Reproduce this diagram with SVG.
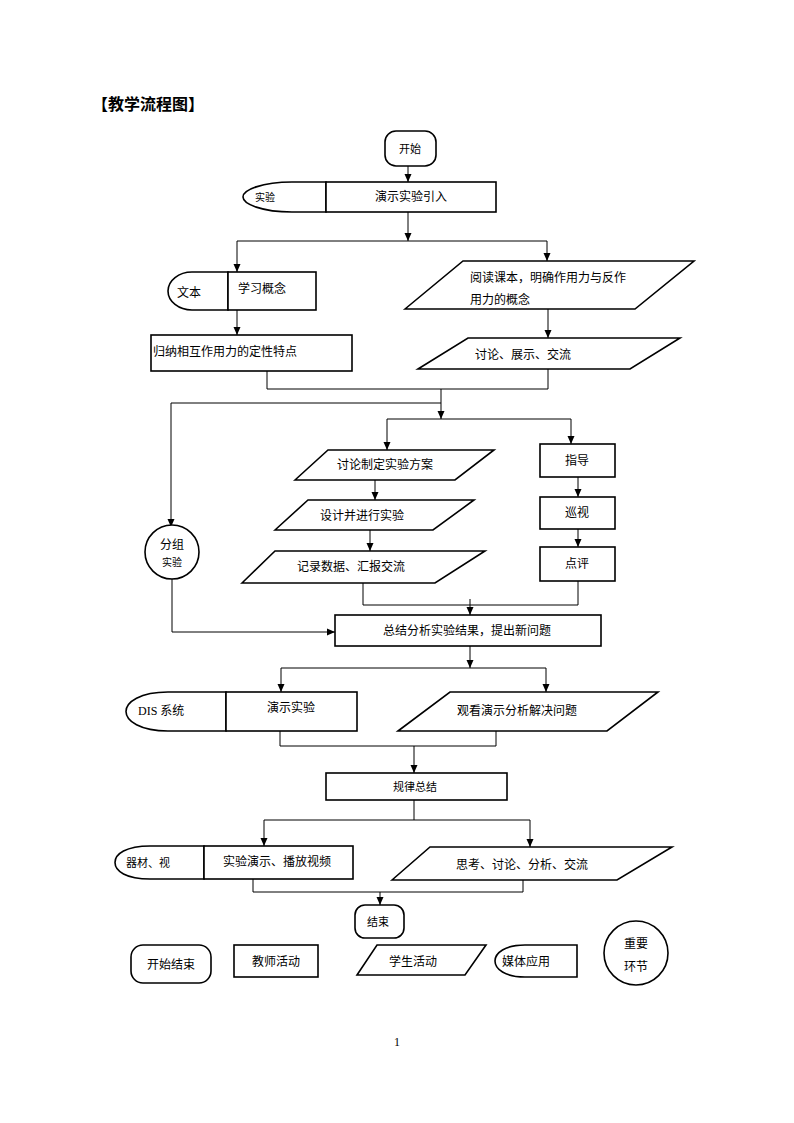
<svg xmlns="http://www.w3.org/2000/svg" width="794" height="1123" viewBox="0 0 794 1123">
<defs>
<marker id="arr" markerUnits="userSpaceOnUse" markerWidth="9" markerHeight="8" refX="8" refY="4" orient="auto"><path d="M0,0.5 L8,4 L0,7.5 z" fill="#000"/></marker>
<style>
.s{fill:#fff;stroke:#000;stroke-width:1.6}
.t{font-family:"Noto Sans CJK SC","Noto Sans",sans-serif;font-size:12px;fill:#000}
.c{text-anchor:middle}
.sm{font-size:10px}
.m{font-size:11px}
.ln{fill:none;stroke:#000;stroke-width:1}
.ar{fill:none;stroke:#000;stroke-width:1;marker-end:url(#arr)}
</style>
</defs>
<rect width="794" height="1123" fill="#fff"/>
<text x="92" y="110" font-family="'Noto Sans CJK SC',sans-serif" font-size="16" font-weight="bold">【教学流程图】</text>

<g id="connectors">
<path class="ar" d="M408,166 V182"/>
<path class="ar" d="M408,212 V241"/>
<path class="ln" d="M237,241 H547"/>
<path class="ar" d="M237,241 V272"/>
<path class="ar" d="M547,241 V261"/>
<path class="ar" d="M237,310 V335"/>
<path class="ar" d="M548,309 V338"/>
<path class="ln" d="M267,371 V389 H548 V369"/>
<path class="ar" d="M441,389 V419"/>
<path class="ln" d="M387,419 H571"/>
<path class="ar" d="M387,419 V450"/>
<path class="ar" d="M571,419 V444"/>
<path class="ar" d="M441,403 H171 V527"/>
<path class="ar" d="M375,480 V500"/>
<path class="ar" d="M370,530 V551"/>
<path class="ar" d="M578,477 V497"/>
<path class="ar" d="M578,529 V547"/>
<path class="ln" d="M363,583 V605 H578 V581"/>
<path class="ar" d="M470,599 V615"/>
<path class="ar" d="M172,579 V632 H335"/>
<path class="ar" d="M470,646 V668"/>
<path class="ln" d="M281,668 H546"/>
<path class="ar" d="M281,668 V692"/>
<path class="ar" d="M546,668 V692"/>
<path class="ln" d="M280,731 V746 H496 V731"/>
<path class="ar" d="M414,746 V773"/>
<path class="ln" d="M414,800 V820"/>
<path class="ln" d="M264,820 H530"/>
<path class="ar" d="M264,820 V846"/>
<path class="ar" d="M530,820 V847"/>
<path class="ln" d="M253,879 V892 H523 V880"/>
<path class="ar" d="M380,892 V905"/>
</g>

<g id="start">
<rect class="s" x="385" y="131" width="51" height="35" rx="11"/>
<text class="t c m" x="410" y="153">开始</text>
</g>

<g id="media1">
<path class="s" d="M326,182 L292,182 C262,182 243,190 243,197 C243,204 262,212 292,212 L326,212 Z"/>
<text class="t sm" x="255" y="201">实验</text>
</g>
<g id="n_intro">
<rect class="s" x="326" y="182" width="170" height="30"/>
<text class="t c" x="411" y="201">演示实验引入</text>
</g>

<g id="media2">
<path class="s" d="M228,272 L192,272 A24,19 0 0 0 192,310 L228,310 Z"/>
<text class="t" x="177" y="297">文本</text>
</g>
<g id="n_learn">
<rect class="s" x="228" y="272" width="88" height="38"/>
<text class="t" x="238" y="293">学习概念</text>
</g>

<g id="n_read">
<polygon class="s" points="405,309 463,261 694,261 635,309"/>
<text class="t" x="470" y="282">阅读课本，明确作用力与反作</text>
<text class="t" x="470" y="304">用力的概念</text>
</g>

<g id="n_induce">
<rect class="s" x="151" y="335" width="201" height="36"/>
<text class="t" x="153" y="356">归纳相互作用力的定性特点</text>
</g>

<g id="n_discuss1">
<polygon class="s" points="418,369 468,338 680,338 630,369"/>
<text class="t" x="475" y="359">讨论、展示、交流</text>
</g>

<g id="n_group">
<circle class="s" cx="172" cy="552" r="27"/>
<text class="t c" x="172" y="549" font-size="13">分组</text>
<text class="t c sm" x="172" y="566">实验</text>
</g>

<g id="n_plan">
<polygon class="s" points="295,480 328,450 494,450 455,480"/>
<text class="t c" x="385" y="469">讨论制定实验方案</text>
</g>
<g id="n_design">
<polygon class="s" points="275,530 308,500 474,500 433,530"/>
<text class="t c" x="362" y="520">设计并进行实验</text>
</g>
<g id="n_record">
<polygon class="s" points="242,583 275,551 485,551 435,583"/>
<text class="t c" x="351" y="571">记录数据、汇报交流</text>
</g>

<g id="n_guide">
<rect class="s" x="540" y="444" width="75" height="33"/>
<text class="t c" x="577" y="465">指导</text>
</g>
<g id="n_patrol">
<rect class="s" x="540" y="497" width="75" height="32"/>
<text class="t c" x="577" y="517">巡视</text>
</g>
<g id="n_comment">
<rect class="s" x="540" y="547" width="75" height="34"/>
<text class="t c" x="577" y="568">点评</text>
</g>

<g id="n_summary">
<rect class="s" x="335" y="615" width="266" height="31"/>
<text class="t c" x="467" y="635">总结分析实验结果，提出新问题</text>
</g>

<g id="media3">
<path class="s" d="M226,692 L168,692 C140,692 126,702 126,711.5 C126,721 140,731 168,731 L226,731 Z"/>
<text x="138" y="715" font-family="'Liberation Serif','Noto Sans CJK SC',serif" font-size="12">DIS <tspan font-family="'Noto Sans CJK SC',sans-serif">系统</tspan></text>
</g>
<g id="n_demo">
<rect class="s" x="226" y="692" width="131" height="39"/>
<text class="t c" x="291" y="712">演示实验</text>
</g>

<g id="n_watch">
<polygon class="s" points="398,731 450,692 658,692 607,731"/>
<text class="t c" x="517" y="715">观看演示分析解决问题</text>
</g>

<g id="n_law">
<rect class="s" x="326" y="773" width="181" height="27"/>
<text class="t c m" x="415" y="791">规律总结</text>
</g>

<g id="media4">
<path class="s" d="M204,846 L150,846 C126,846 115,854 115,862.5 C115,871 126,879 150,879 L204,879 Z"/>
<text class="t m" x="126" y="867">器材、视</text>
</g>
<g id="n_video">
<rect class="s" x="204" y="846" width="149" height="33"/>
<text class="t c" x="277" y="866">实验演示、播放视频</text>
</g>

<g id="n_think">
<polygon class="s" points="392,880 430,847 672,847 617,880"/>
<text class="t c" x="522" y="869">思考、讨论、分析、交流</text>
</g>

<g id="end">
<rect class="s" x="355" y="905" width="49" height="33" rx="10"/>
<text class="t c m" x="378" y="926">结束</text>
</g>

<g id="legend_start">
<rect class="s" x="131" y="945" width="80" height="38" rx="12"/>
<text class="t c" x="171" y="969">开始结束</text>
</g>
<g id="legend_teacher">
<rect class="s" x="234" y="945" width="84" height="32"/>
<text class="t c" x="276" y="966">教师活动</text>
</g>
<g id="legend_student">
<polygon class="s" points="357,975 377,945 486,945 465,975"/>
<text class="t c" x="413" y="966">学生活动</text>
</g>
<g id="legend_media">
<path class="s" d="M577,945 L525,945 C505,945 495,953 495,961 C495,969 505,977 525,977 L577,977 Z"/>
<text class="t" x="502" y="966">媒体应用</text>
</g>
<g id="legend_key">
<circle class="s" cx="636" cy="953" r="32"/>
<text class="t c" x="636" y="948">重要</text>
<text class="t c" x="636" y="971">环节</text>
</g>

<text x="397" y="1046" font-family="'Liberation Serif',serif" font-size="12" text-anchor="middle">1</text>
</svg>
